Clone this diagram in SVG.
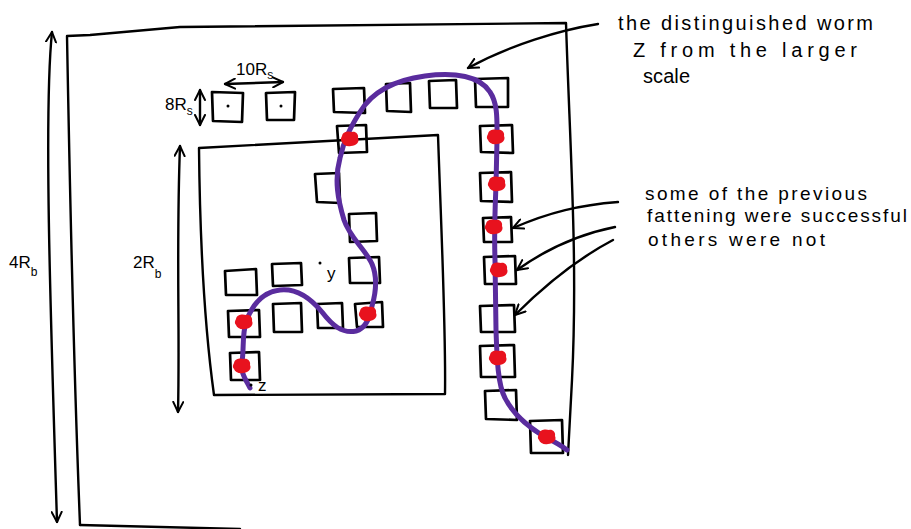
<svg xmlns="http://www.w3.org/2000/svg" width="911" height="529" viewBox="0 0 911 529">
<style>
.ln{fill:none;stroke:#000;stroke-width:2.4;stroke-linecap:round;stroke-linejoin:round}
.sq{fill:none;stroke:#000;stroke-width:2.7;stroke-linejoin:round}
.worm{fill:none;stroke:#5a2c9e;stroke-width:5;stroke-linecap:round;stroke-linejoin:round}
.red{fill:#e8121e}
.hand{font-family:"Liberation Sans","DejaVu Sans",sans-serif;fill:#000}
.note{font-size:20px}
.lab{font-size:17px}
.sub{font-size:12px;fill:#000}
</style>
<defs>
<marker id="ah" viewBox="0 0 12 12" refX="11" refY="6" markerWidth="12" markerHeight="12" markerUnits="userSpaceOnUse" orient="auto-start-reverse">
<path d="M1,1 L11,6 L1,11" fill="none" stroke="#000" stroke-width="2" stroke-linecap="round" stroke-linejoin="round"/>
</marker>
<path id="blob" d="M-8,-3 C-7,-8 -1,-8 2,-7 C5,-8 9,-5 8,-1 C10,3 6,7 1,7 C-3,8 -7,6 -8,3 C-10,1 -9,-1 -8,-3 Z"/>
</defs>
<rect width="911" height="529" fill="#fff"/>

<g id="frames">
<path id="outer-box" class="ln" d="M80,525 C75,400 70,200 67,36 L90,35 L180,27 L566,23 C570,150 578,260 572,380 L568,455"/>
<path id="outer-bottom" class="ln" d="M80,525 L240,529"/>
<path id="inner-box" class="ln" d="M199,148 L438,135 C442,250 446,330 445,394 L214,395 C205,330 200,250 199,148 Z"/>
</g>

<g id="squares">
<g id="S1"><path class="sq" d="M212,92 L243,93 L242,122 L213,121 Z"/><circle cx="228" cy="106" r="1.5"/></g>
<g id="S2"><path class="sq" d="M266,93 L295,92 L294,120 L267,120 Z"/><circle cx="281" cy="106" r="1.5"/></g>
<g id="T1"><path class="sq" d="M333,89 L364,88 L365,113 L334,112 Z"/></g>
<g id="T2"><path class="sq" d="M386,84 L410,83 L411,112 L387,111 Z"/></g>
<g id="T3"><path class="sq" d="M429,81 L456,80 L457,108 L430,108 Z"/></g>
<g id="T4"><path class="sq" d="M475,79 L508,78 L508,107 L476,107 Z"/></g>
<g id="L1"><path class="sq" d="M337,126 L366,125 L367,152 L339,153 Z"/></g>
<g id="L2"><path class="sq" d="M315,174 L339,173 L340,203 L317,202 Z"/></g>
<g id="L3"><path class="sq" d="M349,214 L376,213 L377,241 L350,242 Z"/></g>
<g id="L4"><path class="sq" d="M349,258 L379,257 L380,283 L350,283 Z"/></g>
<g id="R1"><path class="sq" d="M480,126 L512,125 L513,153 L481,152 Z"/></g>
<g id="R2"><path class="sq" d="M480,173 L511,172 L512,202 L481,201 Z"/></g>
<g id="R3"><path class="sq" d="M483,218 L511,217 L512,242 L484,242 Z"/></g>
<g id="R4"><path class="sq" d="M484,257 L515,256 L516,284 L485,284 Z"/></g>
<g id="R5"><path class="sq" d="M480,306 L514,305 L515,332 L481,332 Z"/></g>
<g id="R6"><path class="sq" d="M480,346 L514,345 L515,377 L481,377 Z"/></g>
<g id="R7"><path class="sq" d="M485,391 L516,390 L517,420 L486,419 Z"/></g>
<g id="R8"><path class="sq" d="M530,421 L562,420 L563,453 L531,453 Z"/></g>
<g id="A1"><path class="sq" d="M225,271 L256,269 L257,295 L226,295 Z"/></g>
<g id="A2"><path class="sq" d="M272,264 L301,263 L302,285 L273,286 Z"/></g>
<g id="B1"><path class="sq" d="M228,311 L259,310 L260,337 L229,337 Z"/></g>
<g id="B2"><path class="sq" d="M273,304 L301,303 L302,332 L274,332 Z"/></g>
<g id="B3"><path class="sq" d="M317,304 L342,303 L343,328 L318,328 Z"/></g>
<g id="B4"><path class="sq" d="M355,304 L382,302 L383,327 L357,327 Z"/></g>
<g id="C1"><path class="sq" d="M230,353 L259,352 L260,380 L231,380 Z"/></g>
</g>

<g id="worm">
<path class="worm" d="M250,388 C246,380 240,372 242,362 C244,350 242,335 246,322 C252,305 262,292 280,290 C298,288 312,300 322,312 C332,325 342,334 356,331 C366,328 370,318 372,306 C376,292 378,278 372,264 C366,250 350,238 344,220 C338,200 334,180 340,158 C344,140 350,128 360,112 C372,92 395,80 425,76 C455,72 480,76 490,92 C498,104 497,120 497,140 L496,185 C495,210 494,230 495,260 L496,330 C497,360 498,385 505,398 C512,412 525,425 545,437 C555,442 562,446 567,450"/>
</g>

<g id="fattened">
<use href="#blob" class="red" x="350" y="139"/>
<use href="#blob" class="red" x="496" y="137"/>
<use href="#blob" class="red" x="497" y="184"/>
<use href="#blob" class="red" x="494" y="227"/>
<use href="#blob" class="red" x="499" y="270"/>
<use href="#blob" class="red" x="498" y="358"/>
<use href="#blob" class="red" x="547" y="437"/>
<use href="#blob" class="red" x="244" y="322"/>
<use href="#blob" class="red" x="368" y="314"/>
<use href="#blob" class="red" x="242" y="366"/>
</g>

<g id="connectors">
<path class="ln" marker-start="url(#ah)" marker-end="url(#ah)" d="M52,32 C44,110 50,300 57,522"/>
<path class="ln" marker-start="url(#ah)" marker-end="url(#ah)" d="M180,146 C176,250 180,330 178,412"/>
<path class="ln" marker-start="url(#ah)" marker-end="url(#ah)" d="M225,84 L283,82"/>
<path class="ln" marker-start="url(#ah)" marker-end="url(#ah)" d="M200,90 L200,125"/>
<path class="ln" marker-end="url(#ah)" d="M598,24 C560,30 510,45 468,68"/>
<path class="ln" marker-end="url(#ah)" d="M618,202 C580,205 550,212 513,228"/>
<path class="ln" marker-end="url(#ah)" d="M615,227 C575,235 545,250 517,270"/>
<path class="ln" marker-end="url(#ah)" d="M613,240 C575,260 545,285 515,315"/>
</g>

<g id="labels" class="hand">
<text class="lab" x="236" y="75">10R<tspan class="sub" dy="4">s</tspan></text>
<text class="lab" x="165" y="110">8R<tspan class="sub" dy="5">s</tspan></text>
<text class="lab" x="9" y="268">4R<tspan class="sub" dy="8">b</tspan></text>
<text class="lab" x="133" y="268">2R<tspan class="sub" dy="10">b</tspan></text>
<circle cx="320" cy="263" r="1.5"/>
<text class="lab" x="327" y="279">y</text>
<circle cx="251" cy="385" r="1.5"/>
<text class="lab" x="258" y="391">z</text>
</g>

<g id="notes" class="hand note">
<text x="618" y="30" textLength="255" lengthAdjust="spacing">the distinguished worm</text>
<text x="633" y="57" textLength="224" lengthAdjust="spacing">Z from the larger</text>
<text x="643" y="83" textLength="47" lengthAdjust="spacing">scale</text>
<text x="645" y="200" textLength="222" lengthAdjust="spacing" font-size="19">some of the previous</text>
<text x="647" y="222" textLength="260" lengthAdjust="spacing" font-size="19">fattening were successful</text>
<text x="648" y="246" textLength="177" lengthAdjust="spacing" font-size="19">others were not</text>
</g>
</svg>
